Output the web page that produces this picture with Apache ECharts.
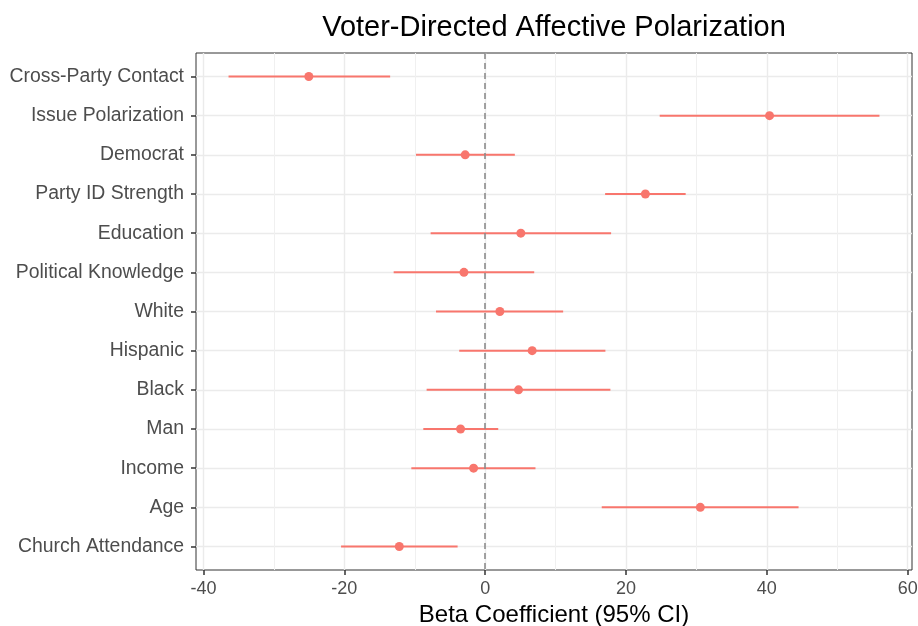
<!DOCTYPE html>
<html><head><meta charset="utf-8">
<script src="https://cdn.jsdelivr.net/npm/echarts@6/dist/echarts.min.js"></script>
<style>html,body{margin:0;padding:0;background:#fff}#c{width:918px;height:626px}</style>
</head><body><div id="c"></div>
<script>
const categories = ["Cross-Party Contact","Issue Polarization","Democrat","Party ID Strength","Education","Political Knowledge","White","Hispanic","Black","Man","Income","Age","Church Attendance"];
const estimates = [-25.05, 40.38, -2.84, 22.75, 5.06, -3.02, 2.08, 6.67, 4.73, -3.5, -1.65, 30.55, -12.2];
const lower = [-36.45, 24.78, -9.83, 17.03, -7.75, -13.0, -6.99, -3.69, -8.32, -8.79, -10.49, 16.55, -20.47];
const upper = [-13.5, 55.99, 4.21, 28.47, 17.88, 6.96, 11.07, 17.07, 17.78, 1.85, 7.14, 44.5, -3.92];
const xTicks = [-40, -20, 0, 20, 40, 60];
const xMinorTicks = [-30, -10, 10, 30, 50];
const yIndex = categories.map((c, i) => i);

const dMin = Math.min(...lower), dMax = Math.max(...upper);
const pad = 0.05 * (dMax - dMin);
const xMin = dMin - pad, xMax = dMax + pad;
const RED = '#F8766D';
const FONT = 'Liberation Sans, Arial, sans-serif';

const chart = echarts.init(document.getElementById('c'), null, {renderer: 'canvas'});
chart.setOption({
  animation: false,
  backgroundColor: '#fff',
  title: {
    text: 'Voter-Directed Affective Polarization',
    left: 549, top: 8, textAlign: 'center',
    textStyle: {fontFamily: FONT, fontSize: 29, fontWeight: 'normal', color: '#000'}
  },
  grid: {left: 196, top: 53, right: 6, bottom: 56, outerBoundsMode: 'none', containLabel: false,
    show: true, borderColor: '#333', borderWidth: 1, backgroundColor: '#fff'},
  xAxis: [{
    type: 'value', min: xMin, max: xMax,
    name: 'Beta Coefficient (95% CI)', nameLocation: 'middle', nameGap: 30,
    nameTextStyle: {fontFamily: FONT, fontSize: 24, color: '#000'},
    axisLine: {show: false, onZero: false},
    axisTick: {show: true, customValues: xTicks, length: 5, lineStyle: {color: '#333', width: 1.5}},
    axisLabel: {customValues: xTicks, margin: 10, fontFamily: FONT, fontSize: 18, color: '#4D4D4D'},
    splitLine: {show: true, lineStyle: {color: '#EBEBEB', width: 1.4}}
  }, {
    type: 'value', min: xMin, max: xMax, position: 'bottom',
    axisLine: {show: false, onZero: false},
    axisTick: {show: false, customValues: xMinorTicks},
    axisLabel: {show: false, customValues: xMinorTicks},
    splitLine: {show: true, lineStyle: {color: '#F0F0F0', width: 1}}
  }],
  yAxis: {
    type: 'value', min: -0.6, max: categories.length - 1 + 0.6, inverse: true,
    axisLine: {show: false, onZero: false},
    axisTick: {show: true, customValues: yIndex, length: 5, lineStyle: {color: '#333', width: 1.5}},
    axisLabel: {customValues: yIndex, margin: 12, fontFamily: FONT, fontSize: 19.4, color: '#4D4D4D',
      formatter: v => categories[Math.round(v)]},
    splitLine: {show: true, lineStyle: {color: '#EBEBEB', width: 1.4}}
  },
  series: [{
    type: 'line', data: [], z: 1, xAxisIndex: 0,
    markLine: {
      silent: true, symbol: 'none', label: {show: false},
      lineStyle: {color: '#8C8C8C', type: [6, 4], width: 1.6},
      data: [{xAxis: 0}]
    }
  }, {
    type: 'custom', z: 3, xAxisIndex: 0,
    data: categories.map((c, i) => [lower[i], upper[i], i]),
    encode: {x: [0, 1], y: 2},
    renderItem: (params, api) => {
      const a = api.coord([api.value(0), api.value(2)]);
      const b = api.coord([api.value(1), api.value(2)]);
      return {type: 'line', shape: {x1: a[0], y1: a[1], x2: b[0], y2: b[1]}, style: {stroke: RED, lineWidth: 2}};
    }
  }, {
    type: 'scatter', z: 4, xAxisIndex: 0,
    data: estimates.map((v, i) => [v, i]),
    symbolSize: 9, itemStyle: {color: RED, opacity: 1}
  }]
});
</script></body></html>
